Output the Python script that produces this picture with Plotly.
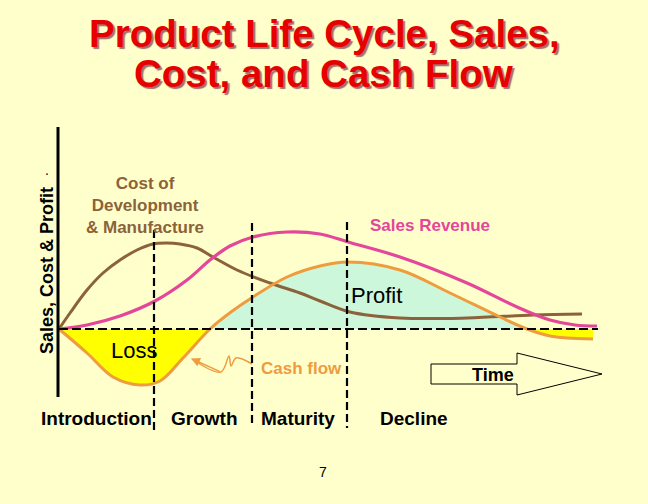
import plotly.graph_objects as go

# ---------------- data (t = time since launch, v = value vs. break-even line) -------------
cost_t = [0, 11, 28, 44, 61, 78, 94, 108, 121, 138, 154, 178, 211, 241, 261, 291, 341, 408, 474, 523]
cost_v = [0, 16, 39, 56, 69, 79, 85, 86, 85, 81, 72, 59, 46, 36, 28, 17, 11, 11, 14, 15]

sales_t = [0, 28, 61, 96, 128, 151, 171, 194, 228, 261, 289, 341, 408, 458, 491, 516, 538]
sales_v = [0, 4, 13, 28, 49, 69, 83, 92, 97, 95, 87, 72, 46, 22, 9, 4, 3]

cash_t = [0, 28, 54, 81, 101, 124, 151, 172, 194, 228, 261, 289, 341, 391, 441, 468, 491, 508, 534]
cash_v = [0, -24, -48, -56, -52, -29, 0, 17, 32, 52, 63, 67, 59, 36, 12, 0, -7, -9, -10]

phase_names = ["Introduction", "Growth", "Maturity", "Decline"]
phase_bounds = [95, 193, 288]

arrow_t = [133, 162, 170, 172, 177, 193]
arrow_v = [-30, -43, -27, -37, -29, -35]

# ---------------- styles -------------
BG = "#FFFFCC"
BROWN = "#8C623A"
PINK = "#E4469A"
ORANGE = "#EE9C3E"
GREEN_FILL = "#CCF7DA"
YELLOW_FILL = "#FFFF00"
FONT = "Liberation Sans, Arial, sans-serif"


def at(px, py):
    """convert a page position (pixels) into data coordinates"""
    return px - 59, 329 - py


fig = go.Figure()

# fills for loss / profit regions (cash-flow relative to break-even)
segs = [(0, 6, YELLOW_FILL), (6, 15, GREEN_FILL), (15, len(cash_t) - 1, YELLOW_FILL)]
for a, b, col in segs:
    fig.add_trace(go.Scatter(
        x=cash_t[a:b + 1], y=cash_v[a:b + 1], mode="lines",
        line=dict(width=0, shape="spline", color=col),
        fill="tozeroy", fillcolor=col, hoverinfo="skip", showlegend=False))

fig.add_trace(go.Scatter(x=cost_t, y=cost_v, mode="lines",
                         line=dict(color=BROWN, width=3, shape="spline"),
                         name="Cost", showlegend=False))
fig.add_trace(go.Scatter(x=sales_t, y=sales_v, mode="lines",
                         line=dict(color=PINK, width=3.2, shape="spline"),
                         name="Sales Revenue", showlegend=False))
fig.add_trace(go.Scatter(x=cash_t, y=cash_v, mode="lines",
                         line=dict(color=ORANGE, width=3, shape="spline"),
                         name="Cash flow", showlegend=False))

# cash-flow pointer squiggle
fig.add_trace(go.Scatter(x=arrow_t, y=arrow_v, mode="lines",
                         line=dict(color=ORANGE, width=1.5, shape="spline"),
                         hoverinfo="skip", showlegend=False))

shapes = []
# vertical axis
x0, y0 = at(58, 127)
x1, y1 = at(58, 397)
shapes.append(dict(type="line", x0=x0, y0=y0, x1=x1, y1=y1,
                   line=dict(color="black", width=3)))
# break-even dashed baseline
bx0, by = at(59, 329)
bx1, _ = at(598, 329)
shapes.append(dict(type="line", x0=bx0, y0=by, x1=bx1, y1=by,
                   line=dict(color="black", width=2, dash="9px,4px")))
# phase dividers
tops = [230, 223, 222]
bottoms = [431, 423, 428]
for t, tp, bt in zip(phase_bounds, tops, bottoms):
    shapes.append(dict(type="line", x0=t, x1=t, y0=329 - tp, y1=329 - bt,
                       line=dict(color="black", width=2.2, dash="8px,4px")))
# Time arrow
pts = [at(431, 364), at(517, 364), at(517, 353), at(602, 374),
       at(517, 395), at(517, 384), at(431, 384)]
path = "M " + " L ".join(f"{p[0]},{p[1]}" for p in pts) + " Z"
shapes.append(dict(type="path", path=path, fillcolor=BG,
                   line=dict(color="black", width=1)))

annotations = []


def txt(px, py, text, size, color="black", bold=False, xanchor="center", angle=0, shadow=None):
    x, y = at(px, py)
    font = dict(family=FONT, size=size, color=color)
    if shadow:
        font["shadow"] = shadow
    annotations.append(dict(
        x=x, y=y, xref="x", yref="y", text=f"<b>{text}</b>" if bold else text,
        showarrow=False, xanchor=xanchor, yanchor="middle", textangle=angle,
        font=font))


# title with drop shadow
TSH = "2px 2px 1px #9E7070"
txt(324, 33, "Product Life Cycle, Sales,", 38.5, "#E60000", bold=True, shadow=TSH)
txt(324, 73, "Cost, and Cash Flow", 38.5, "#E60000", bold=True, shadow=TSH)

txt(47, 271, "Sales, Cost & Profit", 18, bold=True, angle=-90)
txt(47, 170, ".", 14)

txt(145, 205, "Cost of<br>Development<br>& Manufacture", 17, BROWN, bold=True)
txt(430, 225, "Sales Revenue", 17, PINK, bold=True)
txt(349, 295, "Profit", 22, xanchor="left")
txt(134, 350, "Loss", 22)
txt(259, 368, "Cash flow", 17, ORANGE, bold=True, xanchor="left")
txt(493, 375, "Time", 18, bold=True)

for name, cx in zip(phase_names, [96, 204, 298, 414]):
    txt(cx, 418, name, 19, bold=True)

txt(323, 472, "7", 14)

# arrowhead of the cash-flow pointer
annotations.append(dict(x=arrow_t[0] - 1, y=arrow_v[0] + 0.5, ax=arrow_t[1], ay=arrow_v[1],
                        xref="x", yref="y", axref="x", ayref="y", text="",
                        showarrow=True, arrowhead=2, arrowsize=1.2, arrowwidth=1.5,
                        arrowcolor=ORANGE, standoff=0))

fig.update_layout(
    width=648, height=504,
    margin=dict(l=0, r=0, t=0, b=0, pad=0),
    paper_bgcolor=BG, plot_bgcolor=BG,
    xaxis=dict(range=[-59, 589], visible=False, fixedrange=True),
    yaxis=dict(range=[-175, 329], visible=False, fixedrange=True),
    shapes=shapes, annotations=annotations, showlegend=False,
)

page_fix = (
    "document.body.style.margin='0';"
    "document.body.style.padding='0';"
    "document.body.style.background='" + BG + "';"
    "document.body.style.overflow='hidden';"
    "document.documentElement.style.overflow='hidden';"
)

fig.write_html("out.html", post_script=page_fix, config={"displayModeBar": False})
